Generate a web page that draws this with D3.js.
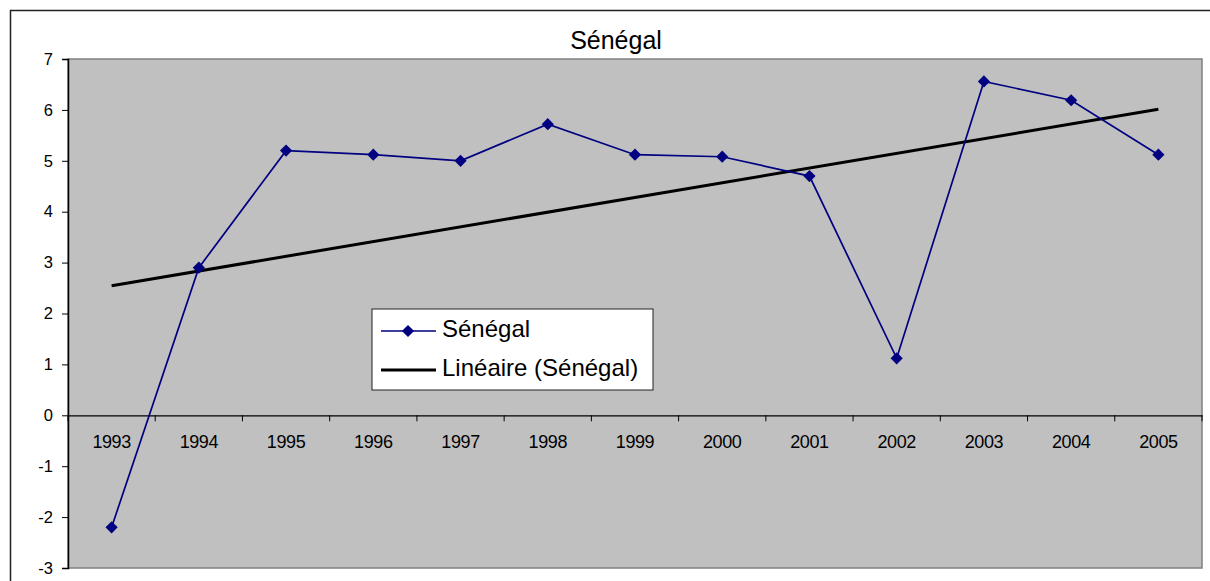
<!DOCTYPE html>
<html><head><meta charset="utf-8">
<script src="https://cdn.jsdelivr.net/npm/d3@7"></script>
<style>body{margin:0;background:#fff;}svg{display:block;font-family:Arial,"Liberation Sans",sans-serif;}</style>
</head><body><svg id="c" width="1210" height="581"></svg>
<script>
const years = ["1993","1994","1995","1996","1997","1998","1999","2000","2001","2002","2003","2004","2005"];
const values = [-2.2, 2.9, 5.2, 5.12, 5.0, 5.72, 5.12, 5.08, 4.7, 1.12, 6.56, 6.19, 5.12];
const yTicks = [-3,-2,-1,0,1,2,3,4,5,6,7];
const title = "Sénégal";
const seriesName = "Sénégal";
const trendName = "Linéaire (Sénégal)";

const FONT = "Arial, 'Liberation Sans', sans-serif";
const svg = d3.select("#c");
const L = 68, T = 59, R = 1202, B = 568;

// outer border
svg.append("rect").attr("x",10.5).attr("y",10.5).attr("width",1210).attr("height",600)
  .attr("fill","#fff").attr("stroke","#222").attr("stroke-width",1.5);

const x = d3.scaleBand().domain(years).range([L,R]);
const y = d3.scaleLinear().domain([-3,7]).range([B,T]);

// plot area
svg.append("rect").attr("x",L).attr("y",T).attr("width",R-L).attr("height",B-T)
  .attr("fill","#c0c0c0").attr("stroke","#808080").attr("stroke-width",1.5);

// title
svg.append("text").attr("x",616).attr("y",49).attr("text-anchor","middle")
  .attr("font-size",25).attr("font-family",FONT).text(title);

// y axis
const ya = svg.append("g").attr("transform",`translate(${L},0)`)
  .call(d3.axisLeft(y).tickValues(yTicks).tickSize(6).tickPadding(9).tickFormat(d=>String(d)));
ya.select(".domain").attr("stroke","#000").attr("stroke-width",1.5);
ya.selectAll(".tick line").attr("stroke","#000");
ya.selectAll("text").attr("font-size",16.5).attr("fill","#000").attr("font-family",FONT);

// x axis at zero
const xa = svg.append("g").attr("transform",`translate(0,${y(0)})`)
  .call(d3.axisBottom(x).tickSize(0).tickPadding(20));
xa.select(".domain").attr("stroke","#000").attr("stroke-width",1.2);
xa.selectAll("text").attr("font-size",18).attr("fill","#000").attr("letter-spacing","-0.4px")
  .attr("font-family",FONT);
// category separators ticks
const bounds = years.map(d=>x(d)).concat([R]);
xa.selectAll(".sep").data(bounds).enter().append("line")
  .attr("x1",d=>d).attr("x2",d=>d).attr("y1",0).attr("y2",6).attr("stroke","#000").attr("stroke-width",1);

// trend line (least squares)
const n = values.length;
const xs = d3.range(1,n+1);
const mx = d3.mean(xs), my = d3.mean(values);
const slope = d3.sum(xs.map((xi,i)=>(xi-mx)*(values[i]-my))) / d3.sum(xs.map(xi=>(xi-mx)*(xi-mx)));
const icpt = my - slope*mx;
const cx = d => x(d) + x.bandwidth()/2;
svg.append("line")
  .attr("x1",cx(years[0])).attr("y1",y(icpt+slope*1))
  .attr("x2",cx(years[n-1])).attr("y2",y(icpt+slope*n))
  .attr("stroke","#000").attr("stroke-width",3);

// series line
const line = d3.line().x((d,i)=>cx(years[i])).y(d=>y(d));
svg.append("path").datum(values).attr("d",line).attr("fill","none")
  .attr("stroke","#000080").attr("stroke-width",1.7);
const diamond = d3.symbol().type(d3.symbolDiamond2).size(95);
svg.selectAll(".m").data(values).enter().append("path")
  .attr("transform",(d,i)=>`translate(${cx(years[i])},${y(d)})`)
  .attr("d",diamond).attr("fill","#000080");

// legend
const lg = svg.append("g");
lg.append("rect").attr("x",372).attr("y",309).attr("width",281).attr("height",81)
  .attr("fill","#fff").attr("stroke","#222").attr("stroke-width",1);
lg.append("line").attr("x1",381).attr("x2",436).attr("y1",331).attr("y2",331).attr("stroke","#000080").attr("stroke-width",1.7);
lg.append("path").attr("transform","translate(408,331)").attr("d",diamond).attr("fill","#000080");
lg.append("text").attr("x",442).attr("y",337).attr("font-size",24).attr("font-family",FONT).text(seriesName);
lg.append("line").attr("x1",381).attr("x2",436).attr("y1",370).attr("y2",370).attr("stroke","#000").attr("stroke-width",3);
lg.append("text").attr("x",442).attr("y",376).attr("font-size",24).attr("font-family",FONT).text(trendName);
</script></body></html>
